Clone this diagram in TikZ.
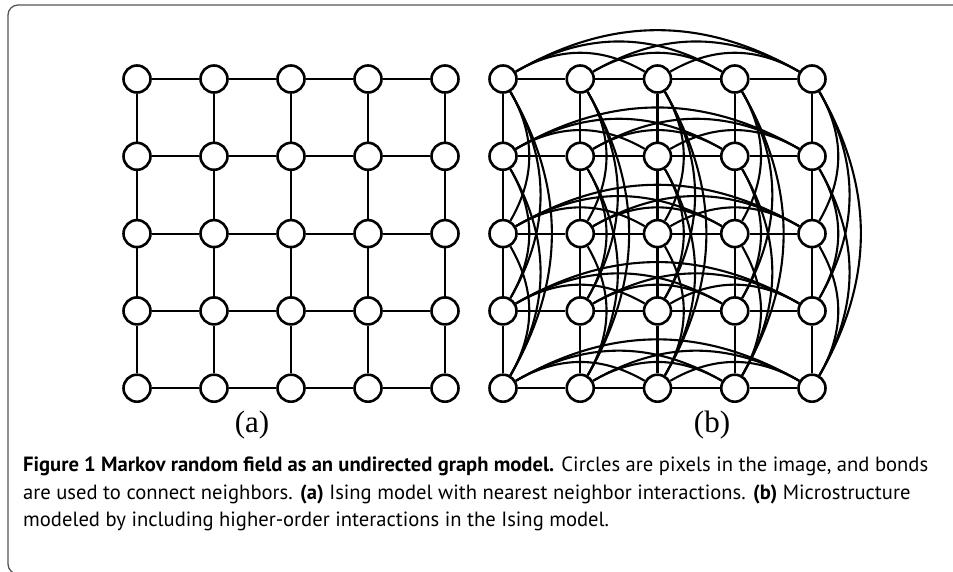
\documentclass[tikz,border=0pt]{standalone}
\usepackage{fontspec}
\setmainfont{PT Sans}
\newfontfamily\labelfont{Liberation Serif}
\definecolor{framecol}{HTML}{555555}
\begin{document}
\begin{tikzpicture}[x=1pt,y=-1pt,
  pix/.style={circle, draw=black, fill=white, line width=2.6pt, minimum size=27pt, inner sep=0pt},
  bond/.style={draw=black, line width=2.1pt},
  sublabel/.style={font=\labelfont\fontsize{31}{36}\selectfont, inner sep=0pt},
  capline/.style={font=\fontsize{20.6}{24}\selectfont, inner sep=0pt, anchor=base west}]
\useasboundingbox (0,0) rectangle (953,571);
\clip (0,0) rectangle (953,571);
% frame around the figure
\draw[framecol, line width=1.3pt, rounded corners=10pt] (8,5) rectangle (1000,574);

% pixel sites of both lattices
\foreach \i in {1,...,5}
  \foreach \j in {1,...,5} {
    \node[pix] (a\i\j) at ({137+77*(\i-1)}, {79+77.3*(\j-1)}) {};
    \node[pix] (b\i\j) at ({503+77.25*(\i-1)}, {79+77.3*(\j-1)}) {};
  }

% nearest-neighbour bonds
\foreach \i/\n in {1/2,2/3,3/4,4/5}
  \foreach \j in {1,...,5} {
    \draw[bond] (a\i\j) -- (a\n\j);
    \draw[bond] (a\j\i) -- (a\j\n);
    \draw[bond] (b\i\j) -- (b\n\j);
    \draw[bond] (b\j\i) -- (b\j\n);
  }

% higher-order bonds: arcs above each row, arcs right of each column
\foreach \i/\k in {1/3,2/4,3/5,1/4,2/5,1/5}
  \foreach \j in {1,...,5} {
    \draw[bond] (b\i\j) to[bend left=30] (b\k\j);
    \draw[bond] (b\j\i) to[bend left=30] (b\j\k);
  }

% panel labels
\node[sublabel] (la) at (252,425) {(a)};
\node[sublabel] (lb) at (712,425) {(b)};

% caption
\node[capline] (c1) at (23,471) {\textbf{Figure 1 Markov random field as an undirected graph model.} Circles are pixels in the image, and bonds};
\node[capline] (c2) at (23,499) {are used to connect neighbors. \textbf{(a)} Ising model with nearest neighbor interactions. \textbf{(b)} Microstructure};
\node[capline] (c3) at (23,526) {modeled by including higher-order interactions in the Ising model.};
\end{tikzpicture}
\end{document}
